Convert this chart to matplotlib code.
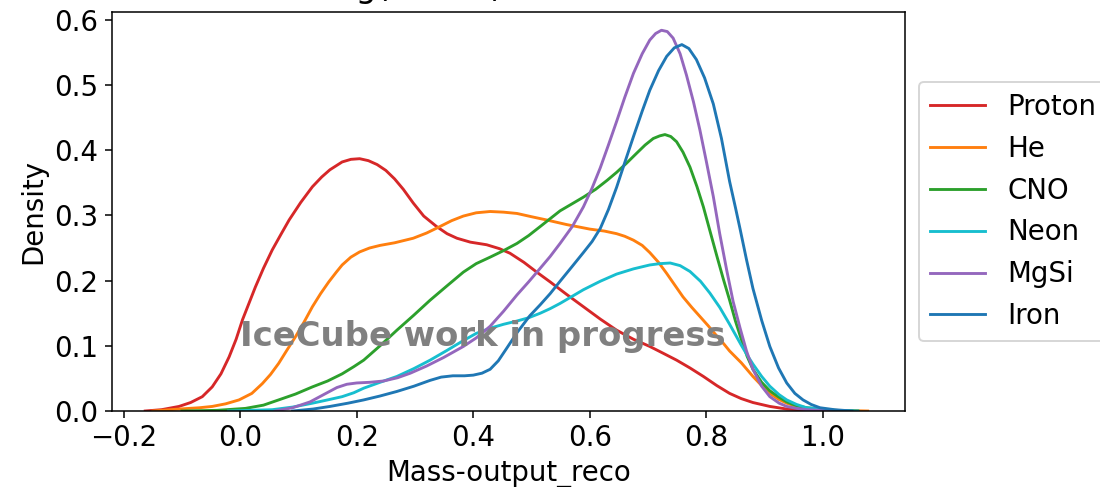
import matplotlib
matplotlib.use("Agg")
import matplotlib.pyplot as plt

plt.rcParams["font.size"] = 14.4

# density curves (x = Mass-output_reco, y = density)
proton_x = [-0.163, -0.135, -0.105, -0.085, -0.065, -0.048, -0.033, -0.019, -0.007, 0.004,
            0.015, 0.026, 0.040, 0.055, 0.070, 0.084, 0.104, 0.124, 0.140, 0.154,
            0.175, 0.190, 0.205, 0.220, 0.235, 0.250, 0.265, 0.280, 0.297, 0.315,
            0.337, 0.355, 0.372, 0.395, 0.423, 0.445, 0.463, 0.487, 0.509, 0.532,
            0.560, 0.589, 0.618, 0.646, 0.675, 0.703, 0.725, 0.749, 0.772, 0.795,
            0.818, 0.840, 0.860, 0.880, 0.909, 0.938, 0.980, 1.020]
proton_y = [0.000, 0.002, 0.007, 0.013, 0.022, 0.037, 0.057, 0.083, 0.110, 0.140,
            0.165, 0.190, 0.219, 0.247, 0.271, 0.293, 0.320, 0.344, 0.359, 0.370,
            0.382, 0.386, 0.387, 0.384, 0.378, 0.369, 0.356, 0.340, 0.319, 0.299,
            0.283, 0.272, 0.265, 0.259, 0.255, 0.249, 0.242, 0.228, 0.213, 0.198,
            0.179, 0.160, 0.141, 0.124, 0.110, 0.099, 0.089, 0.078, 0.066, 0.053,
            0.039, 0.027, 0.019, 0.013, 0.007, 0.003, 0.001, 0.000]

he_x = [-0.150, -0.105, -0.070, -0.048, -0.025, -0.002, 0.020, 0.038, 0.052, 0.066,
        0.080, 0.095, 0.110, 0.124, 0.138, 0.152, 0.165, 0.175, 0.190, 0.205,
        0.222, 0.240, 0.265, 0.297, 0.320, 0.343, 0.363, 0.383, 0.405, 0.429,
        0.452, 0.475, 0.500, 0.526, 0.560, 0.600, 0.625, 0.646, 0.660, 0.675,
        0.690, 0.703, 0.718, 0.732, 0.746, 0.760, 0.775, 0.789, 0.803, 0.818,
        0.830, 0.840, 0.860, 0.880, 0.895, 0.909, 0.924, 0.938, 0.955, 0.972,
        1.020, 1.077]
he_y = [0.000, 0.003, 0.005, 0.007, 0.011, 0.017, 0.027, 0.042, 0.056, 0.073,
        0.093, 0.114, 0.137, 0.160, 0.180, 0.198, 0.213, 0.224, 0.236, 0.244,
        0.250, 0.254, 0.258, 0.265, 0.273, 0.283, 0.292, 0.299, 0.304, 0.306,
        0.305, 0.303, 0.298, 0.293, 0.286, 0.279, 0.276, 0.272, 0.268, 0.262,
        0.254, 0.243, 0.228, 0.211, 0.193, 0.175, 0.159, 0.145, 0.131, 0.115,
        0.103, 0.092, 0.074, 0.053, 0.039, 0.027, 0.018, 0.012, 0.007, 0.004,
        0.001, 0.000]

cno_x = [-0.100, -0.040, 0.009, 0.040, 0.066, 0.095, 0.124, 0.150, 0.175, 0.195,
         0.212, 0.240, 0.269, 0.298, 0.326, 0.355, 0.383, 0.405, 0.429, 0.452,
         0.475, 0.495, 0.515, 0.532, 0.549, 0.570, 0.589, 0.610, 0.630, 0.646,
         0.663, 0.680, 0.695, 0.709, 0.720, 0.729, 0.739, 0.749, 0.760, 0.772,
         0.784, 0.795, 0.806, 0.818, 0.829, 0.840, 0.850, 0.860, 0.870, 0.880,
         0.895, 0.909, 0.925, 0.938, 0.955, 0.972, 1.020, 1.060]
cno_y = [0.000, 0.001, 0.004, 0.009, 0.017, 0.026, 0.037, 0.046, 0.057, 0.068,
         0.078, 0.100, 0.124, 0.147, 0.170, 0.192, 0.213, 0.226, 0.236, 0.246,
         0.257, 0.269, 0.283, 0.295, 0.307, 0.318, 0.328, 0.340, 0.354, 0.366,
         0.380, 0.395, 0.408, 0.418, 0.422, 0.424, 0.421, 0.413, 0.397, 0.374,
         0.344, 0.313, 0.277, 0.238, 0.203, 0.170, 0.138, 0.110, 0.084, 0.064,
         0.044, 0.031, 0.021, 0.014, 0.008, 0.005, 0.001, 0.000]

neon_x = [-0.020, 0.055, 0.090, 0.124, 0.150, 0.175, 0.195, 0.212, 0.240, 0.269,
          0.298, 0.326, 0.355, 0.383, 0.405, 0.429, 0.452, 0.475, 0.495, 0.515,
          0.532, 0.549, 0.570, 0.589, 0.618, 0.646, 0.675, 0.703, 0.720, 0.738,
          0.755, 0.772, 0.790, 0.806, 0.823, 0.840, 0.850, 0.860, 0.870, 0.880,
          0.895, 0.909, 0.925, 0.938, 0.955, 0.972, 1.020, 1.060]
neon_y = [0.000, 0.002, 0.006, 0.012, 0.017, 0.022, 0.028, 0.035, 0.044, 0.053,
          0.065, 0.078, 0.093, 0.108, 0.119, 0.127, 0.133, 0.138, 0.143, 0.150,
          0.157, 0.165, 0.176, 0.186, 0.199, 0.210, 0.218, 0.224, 0.226, 0.227,
          0.223, 0.214, 0.199, 0.181, 0.159, 0.133, 0.117, 0.101, 0.086, 0.072,
          0.053, 0.038, 0.025, 0.017, 0.010, 0.005, 0.001, 0.000]

mgsi_x = [0.060, 0.090, 0.120, 0.145, 0.166, 0.183, 0.200, 0.222, 0.246, 0.270,
          0.292, 0.320, 0.349, 0.383, 0.405, 0.429, 0.452, 0.475, 0.495, 0.515,
          0.532, 0.549, 0.570, 0.589, 0.604, 0.618, 0.632, 0.646, 0.660, 0.675,
          0.690, 0.703, 0.713, 0.723, 0.733, 0.743, 0.755, 0.766, 0.778, 0.789,
          0.800, 0.812, 0.823, 0.835, 0.846, 0.858, 0.869, 0.880, 0.895, 0.909,
          0.925, 0.938, 0.955, 0.972, 1.020]
mgsi_y = [0.000, 0.005, 0.014, 0.026, 0.036, 0.041, 0.043, 0.044, 0.046, 0.051,
          0.058, 0.069, 0.082, 0.099, 0.112, 0.130, 0.153, 0.178, 0.198, 0.219,
          0.237, 0.257, 0.283, 0.313, 0.342, 0.373, 0.408, 0.444, 0.481, 0.518,
          0.548, 0.569, 0.579, 0.584, 0.582, 0.572, 0.548, 0.515, 0.474, 0.431,
          0.383, 0.329, 0.272, 0.216, 0.168, 0.127, 0.092, 0.064, 0.038, 0.022,
          0.012, 0.007, 0.004, 0.002, 0.000]

iron_x = [0.090, 0.125, 0.154, 0.185, 0.212, 0.240, 0.269, 0.298, 0.326, 0.345,
          0.365, 0.385, 0.400, 0.415, 0.429, 0.443, 0.458, 0.475, 0.497, 0.515,
          0.532, 0.549, 0.570, 0.589, 0.604, 0.618, 0.632, 0.646, 0.660, 0.675,
          0.690, 0.703, 0.718, 0.732, 0.745, 0.758, 0.770, 0.783, 0.797, 0.812,
          0.826, 0.840, 0.850, 0.858, 0.869, 0.880, 0.895, 0.909, 0.924, 0.938,
          0.952, 0.966, 0.980, 0.995, 1.020, 1.050]
iron_y = [0.000, 0.003, 0.007, 0.012, 0.017, 0.023, 0.030, 0.038, 0.047, 0.052,
          0.054, 0.054, 0.055, 0.058, 0.064, 0.077, 0.097, 0.120, 0.146, 0.163,
          0.180, 0.199, 0.222, 0.243, 0.260, 0.280, 0.309, 0.343, 0.381, 0.421,
          0.460, 0.492, 0.522, 0.544, 0.557, 0.562, 0.556, 0.539, 0.511, 0.471,
          0.418, 0.352, 0.312, 0.279, 0.232, 0.188, 0.139, 0.099, 0.066, 0.043,
          0.027, 0.017, 0.010, 0.005, 0.002, 0.000]

labels = ["Proton", "He", "CNO", "Neon", "MgSi", "Iron"]
colors = ["tab:red", "tab:orange", "tab:green", "tab:cyan", "tab:purple", "tab:blue"]
curves = [(proton_x, proton_y), (he_x, he_y), (cno_x, cno_y),
          (neon_x, neon_y), (mgsi_x, mgsi_y), (iron_x, iron_y)]

fig = plt.figure(figsize = (1100 / 138, 487 / 138), dpi = 138)
ax = fig.add_axes([112 / 1100, 76 / 487, 793 / 1100, 399 / 487])

for (xs, ys), lab, col in zip(curves, labels, colors):
    ax.plot(xs, ys, color = col, lw = 1.5, label = lab, solid_joinstyle = "round")

ax.text(0.0, 0.1, "IceCube work in progress", fontsize = 17.7, fontweight = "bold",
        color = "gray", va = "baseline", ha = "left", zorder = 5)

ax.set_xlim(-0.22, 1.141)
ax.set_ylim(0, 0.612)
ax.set_xticks([-0.2, 0.0, 0.2, 0.4, 0.6, 0.8, 1.0])
ax.set_yticks([0.0, 0.1, 0.2, 0.3, 0.4, 0.5, 0.6])
ax.set_xlabel("Mass-output_reco")
ax.set_ylabel("Density")
# title sits mostly above the canvas, as in the reference
ax.set_title("log(E/GeV) = 7.0 - 7.5", pad = 7.8)

ax.legend(loc = "center left", bbox_to_anchor = (1, 0.5))

fig.savefig("out.png", dpi = 138, facecolor = "w")
